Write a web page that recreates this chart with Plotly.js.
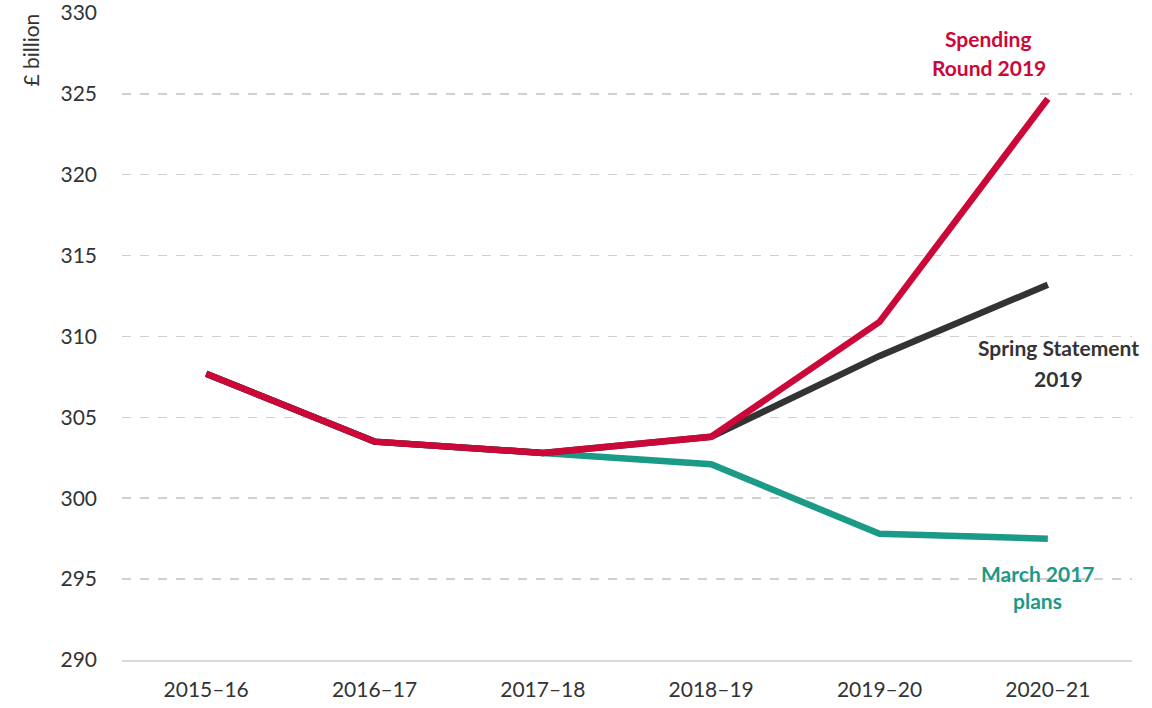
<!DOCTYPE html>
<html>
<head>
<meta charset="utf-8">
<script src="https://cdn.plot.ly/plotly-3.0.1.min.js"></script>
<style>html,body{margin:0;padding:0;background:#fff;}#chart{width:1152px;height:708px;}</style>
</head>
<body>
<div id="chart"></div>
<script>
const years = ["2015–16", "2016–17", "2017–18", "2018–19", "2019–20", "2020–21"];
const march2017 = [307.7, 303.5, 302.8, 302.1, 297.8, 297.5];
const spring2019 = [307.7, 303.5, 302.8, 303.8, 308.8, 313.2];
const spending2019 = [307.7, 303.5, 302.8, 303.8, 310.9, 324.7];
const yTicks = [290, 295, 300, 305, 310, 315, 320, 325, 330];

const FONT = "Lato, 'Open Sans', sans-serif";
const RED = "#CC0839", DARK = "#333333", TEAL = "#1B9A88";

const mk = (y, c, name) => ({x: years, y: y, type: "scatter", mode: "lines", name: name,
  line: {color: c, width: 6.5}, hoverinfo: "skip"});

const data = [mk(march2017, TEAL, "March 2017 plans"), mk(spring2019, DARK, "Spring Statement 2019"), mk(spending2019, RED, "Spending Round 2019")];

const lab = (t, x, y, c) => ({text: "<b>" + t + "</b>", xref: "x", yref: "y", x: x, y: y, showarrow: false,
  font: {family: FONT, size: 21, color: c}, xanchor: "center", yanchor: "middle"});

const layout = {
  width: 1152, height: 708,
  margin: {l: 122, r: 20, t: 12, b: 48},
  paper_bgcolor: "#fff", plot_bgcolor: "#fff",
  showlegend: false,
  font: {family: FONT, size: 21, color: "#333"},
  xaxis: {type: "category", range: [-0.5, 5.5], showgrid: false, zeroline: false,
    showline: true, linecolor: "#d9d9d9", linewidth: 2, ticks: "", ticklabelstandoff: 10,
    tickfont: {family: FONT, size: 21, color: "#333"}},
  yaxis: {range: [290, 330.06], tickvals: yTicks, showgrid: true, gridcolor: "#d0d0d0", griddash: "dash",
    gridwidth: 1.5, zeroline: false, showline: false, ticks: "", ticklabelstandoff: 24,
    ticklabeloverflow: "allow", tickfont: {family: FONT, size: 21, color: "#333"}},
  annotations: [
    {text: "£ billion", xref: "paper", yref: "paper", x: -0.091, y: 1.0, xanchor: "center", yanchor: "top",
      textangle: -90, showarrow: false, font: {family: FONT, size: 21, color: "#333"}},
    lab("Spending", 4.65, 328.45, RED),
    lab("Round 2019", 4.65, 326.6, RED),
    lab("Spring Statement", 5.065, 309.3, DARK),
    lab("2019", 5.065, 307.43, DARK),
    lab("March 2017", 4.94, 295.32, TEAL),
    lab("plans", 4.94, 293.65, TEAL)
  ]
};

Plotly.newPlot("chart", data, layout, {staticPlot: true});
</script>
</body>
</html>
